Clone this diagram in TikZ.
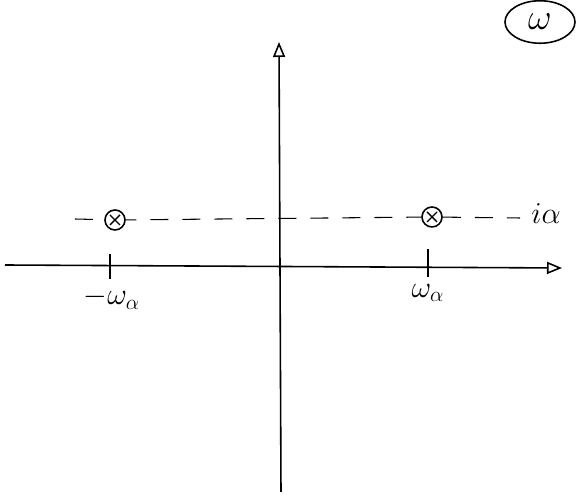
\documentclass[tikz,border=0pt]{standalone}
\usetikzlibrary{arrows.meta,shapes.geometric}
\begin{document}
\begin{tikzpicture}[>={Triangle[open,length=3mm,width=2.4mm]},
      axis/.style={line width=0.9pt, ->},
      pole/.style={draw, circle, line width=0.9pt, minimum size=0.4cm, inner sep=0pt,
        path picture={\draw[line width=0.8pt] (path picture bounding box.north west) ++(0.1,-0.1) -- ++(0.2,-0.2)
          (path picture bounding box.north east) ++(-0.1,-0.1) -- ++(-0.2,-0.2);}},
      level/.style={line width=0.6pt, dash pattern=on 3.6mm off 2.8mm},
      lbl/.style={font=\LARGE}]
    \useasboundingbox (-5.6,-4.6) rectangle (6.12,5.34);
    % axes
    \coordinate (xl) at (-5.5,0.04);
    \coordinate (xr) at (5.64,-0.02);
    \coordinate (yb) at (0.02,-4.5);
    \coordinate (yt) at (-0.02,4.5);
    \draw[axis] (xl) -- (xr);
    \draw[axis] (yb) -- (yt);
    % poles on the line Im = alpha
    \node[pole] (pl) at (-3.3,0.94) {};
    \node[pole] (pr) at (3.04,1.0) {};
    \coordinate (dl) at (-4.1,0.96);
    \coordinate (dr) at (4.8,0.98);
    \draw[level] (dl) -- (pl);
    \draw[level, dash phase=1.5mm] (pl) -- (pr);
    \draw[level] (pr) -- (dr);
    % ticks
    \coordinate (tl) at (-3.4,0.04);
    \coordinate (tr) at (2.96,0.02);
    \draw[line width=0.8pt] (tl) ++(0,0.22) -- ++(0,-0.5);
    \draw[line width=0.8pt] (tr) ++(0,0.34) -- ++(0,-0.56);
    % labels
    \node[lbl] (wl) at (-3.36,-0.62) {$-\omega_\alpha$};
    \node[lbl] (wr) at (2.96,-0.52) {$\omega_\alpha$};
    \node[lbl] (ia) at (5.32,1.06) {$i\alpha$};
    \node[font=\huge, draw, ellipse, line width=0.9pt, minimum width=1.4cm, minimum height=0.85cm, inner sep=1pt] (plane) at (5.2,4.9) {$\omega$};
  \end{tikzpicture}
\end{document}
